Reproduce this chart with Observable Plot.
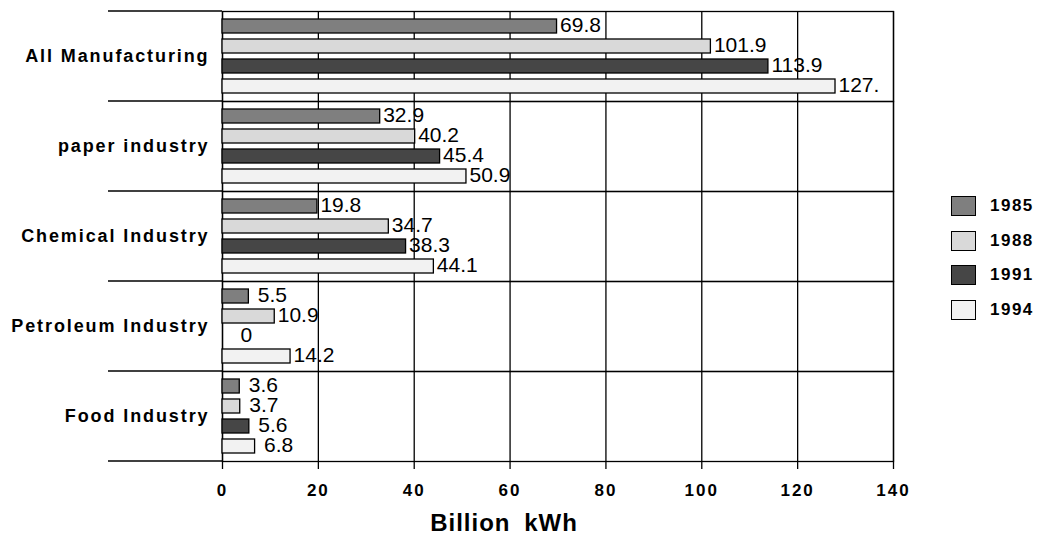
<!DOCTYPE html>
<html>
<head>
<meta charset="utf-8">
<script src="https://cdn.jsdelivr.net/npm/d3@7"></script>
<script src="https://cdn.jsdelivr.net/npm/@observablehq/plot@0.6"></script>
<style>
  body { margin: 0; background: #fff; font-family: "Liberation Sans", Arial, sans-serif; }
  #wrap { position: relative; width: 1045px; height: 538px; }
  #legend { position: absolute; left: 951px; top: 189px; }
  .item { display: flex; align-items: center; height: 34.5px; }
  .sw { width: 25px; height: 20px; border: 1.3px solid #000; box-sizing: border-box; margin-right: 14px; }
  .lab { font-weight: bold; font-size: 17px; letter-spacing: 1.5px; color: #000; }
  svg g[aria-label="x-axis tick label"] text { letter-spacing: 2px; }
  svg g[aria-label="fy-axis tick label"] text { letter-spacing: 1.9px; }
</style>
</head>
<body>
<div id="wrap"></div>
<script>
// Electricity use by industry, billion kWh
const categories = ["All Manufacturing", "paper industry", "Chemical Industry", "Petroleum Industry", "Food Industry"];
const years = ["1985", "1988", "1991", "1994"];
const v1985 = [69.8, 32.9, 19.8, 5.5, 3.6];
const v1988 = [101.9, 40.2, 34.7, 10.9, 3.7];
const v1991 = [113.9, 45.4, 38.3, 0, 5.6];
const v1994 = [127.9, 50.9, 44.1, 14.2, 6.8];
const t1985 = ["69.8", "32.9", "19.8", "5.5", "3.6"];
const t1988 = ["101.9", "40.2", "34.7", "10.9", "3.7"];
const t1991 = ["113.9", "45.4", "38.3", "0", "5.6"];
const t1994 = ["127.", "50.9", "44.1", "14.2", "6.8"];
const xTicks = [0, 20, 40, 60, 80, 100, 120, 140];
const colors = ["#7f7f7f", "#d9d9d9", "#464646", "#f2f2f2"];

const series = [v1985, v1988, v1991, v1994];
const texts = [t1985, t1988, t1991, t1994];
const data = [];
categories.forEach((c, i) => {
  years.forEach((y, j) => {
    data.push({category: c, year: y, value: series[j][i], text: texts[j][i]});
  });
});

const labelStyle = {
  x: "value", y: "year", fy: "category", text: "text",
  textAnchor: "start", lineAnchor: "middle", fontSize: 21, fill: "#000", dy: -1
};

const chart = Plot.plot({
  width: 1045,
  height: 538,
  marginLeft: 222,
  marginRight: 152,
  marginTop: 10,
  marginBottom: 76,
  style: {fontFamily: "'Liberation Sans', Arial, sans-serif", background: "#fff"},
  x: {domain: [0, 140]},
  fy: {domain: categories, padding: 0, label: null},
  y: {domain: years, paddingInner: 0.31, paddingOuter: 0.37, axis: null},
  color: {domain: years, range: colors},
  marks: [
    Plot.gridX(xTicks, {stroke: "#000", strokeOpacity: 1, strokeWidth: 1.3}),
    Plot.frame({stroke: "#000", strokeWidth: 1.3}),
    Plot.barX(data, {x: "value", y: "year", fy: "category", fill: "year", stroke: "#000", strokeWidth: 1.3}),
    Plot.text(data.filter(d => d.value >= 10), {...labelStyle, dx: 3}),
    Plot.text(data.filter(d => d.value > 0 && d.value < 10), {...labelStyle, dx: 9}),
    Plot.text(data.filter(d => d.value === 0), {...labelStyle, dx: 18}),
    Plot.axisX(xTicks, {tickSize: 8, tickPadding: 14, fontWeight: "bold", fontSize: 17, label: null, stroke: "#000", strokeWidth: 1.3}),
    Plot.axisFy({anchor: "left", tickSize: 0, tickPadding: 13, fontWeight: "bold", fontSize: 18, label: null})
  ]
});

document.getElementById("wrap").appendChild(chart);

// Category separators extend left into the label column
const fy = chart.scale("fy");
const bounds = categories.map(c => fy.apply(c));
bounds.push(fy.apply(categories[categories.length - 1]) + fy.bandwidth);
const svg = d3.select(chart);
svg.append("g")
  .selectAll("line")
  .data(bounds)
  .join("line")
  .attr("x1", 108).attr("x2", 222)
  .attr("y1", d => d).attr("y2", d => d)
  .attr("stroke", "#000").attr("stroke-width", 1.3);

// Axis title
svg.append("text")
  .attr("x", 504).attr("y", 531)
  .attr("text-anchor", "middle")
  .attr("font-weight", "bold")
  .attr("font-size", 24)
  .attr("letter-spacing", 1)
  .attr("word-spacing", 6)
  .attr("fill", "#000")
  .text("Billion kWh");

// Legend
const legend = d3.select("#wrap").append("div").attr("id", "legend");
const items = legend.selectAll("div").data(years).join("div").attr("class", "item");
items.append("div").attr("class", "sw").style("background", (d, i) => colors[i]);
items.append("div").attr("class", "lab").text(d => d);
</script>
</body>
</html>
